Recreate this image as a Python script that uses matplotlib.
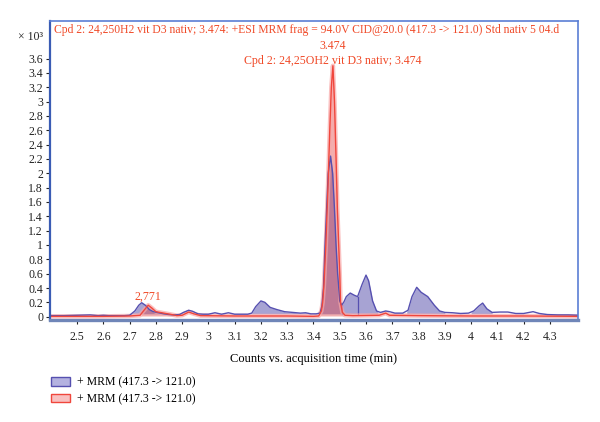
import numpy as np
import matplotlib
matplotlib.use("Agg")
import matplotlib.pyplot as plt
from matplotlib.patches import Patch

plt.rcParams['font.family'] = ['Liberation Serif', 'DejaVu Serif']

# chromatogram (time in min, counts x 10^3)
blue_t = [2.40, 2.45, 2.50, 2.55, 2.58, 2.60, 2.62, 2.65, 2.68, 2.70, 2.72, 2.735, 2.746, 2.76, 2.775,
          2.79, 2.81, 2.83, 2.85, 2.87, 2.89, 2.905, 2.925, 2.94, 2.96, 2.98, 3.00, 3.025, 3.05, 3.076,
          3.10, 3.13, 3.15, 3.165, 3.18, 3.20, 3.215, 3.235, 3.26, 3.29, 3.32, 3.35, 3.37, 3.39, 3.41,
          3.425, 3.432, 3.438, 3.444, 3.45, 3.456, 3.465, 3.473, 3.48, 3.486, 3.492, 3.50, 3.507,
          3.515, 3.525, 3.54, 3.555, 3.568,
          3.585, 3.60, 3.61, 3.625, 3.64, 3.655, 3.675, 3.69, 3.71, 3.74, 3.76, 3.775, 3.793, 3.81,
          3.835, 3.86, 3.88, 3.90, 3.93, 3.96, 3.99, 4.01, 4.03, 4.044, 4.06, 4.08, 4.11, 4.14, 4.17,
          4.20, 4.236, 4.26, 4.29, 4.33, 4.37, 4.41]
blue_y = [0.015, 0.015, 0.02, 0.025, 0.015, 0.02, 0.015, 0.015, 0.015, 0.02, 0.08, 0.16, 0.195, 0.16, 0.10,
          0.07, 0.055, 0.04, 0.03, 0.025, 0.03, 0.06, 0.09, 0.075, 0.04, 0.035, 0.035, 0.055, 0.035, 0.055,
          0.035, 0.035, 0.035, 0.05, 0.14, 0.22, 0.20, 0.13, 0.10, 0.07, 0.06, 0.05, 0.055, 0.04, 0.04,
          0.05, 0.15, 0.4, 1.0, 1.5, 2.0, 2.24, 2.0, 1.5, 1.0, 0.6, 0.22, 0.16,
          0.2, 0.28, 0.33, 0.30, 0.28,
          0.45, 0.58, 0.50, 0.22, 0.08, 0.06, 0.08, 0.07, 0.05, 0.05, 0.09, 0.28, 0.41, 0.34,
          0.28, 0.16, 0.08, 0.06, 0.055, 0.045, 0.05, 0.08, 0.15, 0.19, 0.11, 0.06, 0.065, 0.065, 0.045,
          0.045, 0.07, 0.045, 0.03, 0.025, 0.025, 0.02]

red_t = [2.40, 2.50, 2.60, 2.70, 2.74, 2.755, 2.771, 2.785, 2.80, 2.83, 2.86, 2.88, 2.90, 2.925, 2.945,
         2.97, 3.10, 3.30, 3.40, 3.42, 3.43, 3.435, 3.44, 3.447, 3.455, 3.462, 3.468, 3.474, 3.48,
         3.486, 3.491, 3.496, 3.50, 3.503, 3.51, 3.52,
         3.55, 3.65, 3.675, 3.69, 3.80, 4.00, 4.20, 4.41]
red_y = [0.005, 0.005, 0.005, 0.01, 0.02, 0.09, 0.16, 0.12, 0.07, 0.05, 0.03, 0.015, 0.02, 0.065, 0.04,
         0.015, 0.01, 0.01, 0.005, 0.01, 0.08, 0.2, 0.45, 1.0, 1.8, 2.6, 3.2, 3.5, 3.0,
         2.2, 1.5, 1.0, 0.6, 0.2, 0.06, 0.02,
         0.015, 0.02, 0.05, 0.02, 0.015, 0.01, 0.01, 0.005]

# integrated peak windows
blue_windows = [(2.70, 2.87), (3.165, 3.42), (3.425, 3.507), (3.507, 3.568), (3.568, 3.645),
                (3.755, 3.90), (4.0, 4.08)]
blue_splits = [3.507, 3.568]
red_windows = [(2.745, 2.87), (3.425, 3.515)]

title = "Cpd 2: 24,250H2 vit D3 nativ; 3.474: +ESI MRM frag = 94.0V CID@20.0 (417.3 -> 121.0) Std nativ 5 04.d"
peak_label = "Cpd 2: 24,25OH2 vit D3 nativ; 3.474"
legend_labels = ["+ MRM (417.3 -> 121.0)", "+ MRM (417.3 -> 121.0)"]

blue_line = '#5650b0'
red_line = '#f0463c'
txt_red = '#f04a28'

fig = plt.figure(figsize=(6, 4.22), dpi=100)
ax = fig.add_axes([50/600, 1-320/422, 528/600, 299/422])

bt = np.array(blue_t); by = np.array(blue_y)
rt = np.array(red_t); ry = np.array(red_y)


def fill_peak(t, y, a, b, base, color, alpha):
    tt = np.concatenate([[a], t[(t > a) & (t < b)], [b]])
    yy = np.interp(tt, t, y)
    ax.fill_between(tt, base, yy, where=yy >= base, interpolate=True, color=color, alpha=alpha, lw=0)


for a, b in blue_windows:
    fill_peak(bt, by, a, b, 0.04, '#5048a8', 0.5)
for s in blue_splits:
    ax.plot([s, s], [0.04, np.interp(s, bt, by)], color=blue_line, lw=0.9)
for a, b in red_windows:
    fill_peak(rt, ry, a, b, 0.01, '#e04040', 0.42)

ax.plot(rt, ry, color='#f8a8a8', lw=3.2, alpha=0.7)
ax.plot(bt, by, color=blue_line, lw=1.0)
ax.plot(rt, ry, color=red_line, lw=1.0)

ax.set_xlim(2.397, 4.407)
ax.set_ylim(-0.046, 4.124)
xt = np.round(np.arange(2.5, 4.31, 0.1), 1)
yt = np.round(np.arange(0, 3.61, 0.2), 1)
ax.set_xticks(xt)
ax.set_xticklabels([f"{v:g}" for v in xt])
ax.set_yticks(yt)
ax.set_yticklabels([f"{v:g}" for v in yt])
ax.tick_params(axis='both', labelsize=8.5, colors='#222222', length=3, width=0.8)
ax.tick_params(axis='x', pad=5)
ax.tick_params(axis='y', pad=2)

for side in ['top', 'right']:
    ax.spines[side].set_color('#5a7ed4')
    ax.spines[side].set_linewidth(1.2)
ax.spines['left'].set_color('#3a5cb4')
ax.spines['left'].set_linewidth(1.6)
ax.spines['bottom'].set_color('#6f86b8')
ax.spines['bottom'].set_linewidth(2.4)

ax.set_xlabel("Counts vs. acquisition time (min)", fontsize=9, labelpad=7)
ax.text(0.008, 0.97, title, transform=ax.transAxes, color=txt_red, fontsize=8.4, va='center', ha='left')
ax.text(3.474, 3.775, "3.474", color=txt_red, fontsize=8.6, ha='center', va='center')
ax.text(3.474, 3.566, peak_label, color=txt_red, fontsize=8.6, ha='center', va='center')
ax.text(2.77, 0.275, "2,771", color=txt_red, fontsize=8.6, ha='center', va='center')
fig.text(18/600, 1-37/422, "× 10³", fontsize=8.5, ha='left', va='center', color='#222222')

handles = [Patch(facecolor='#b4b2e0', edgecolor=blue_line, lw=1.0),
           Patch(facecolor='#f8c0c0', edgecolor=red_line, lw=1.0)]
fig.legend(handles, legend_labels, loc='upper left', bbox_to_anchor=(40/600, 1-366/422),
           frameon=False, fontsize=8.5, handlelength=1.6, handleheight=0.7, labelspacing=0.4,
           handletextpad=0.6)

fig.savefig('out.png', dpi=100)
